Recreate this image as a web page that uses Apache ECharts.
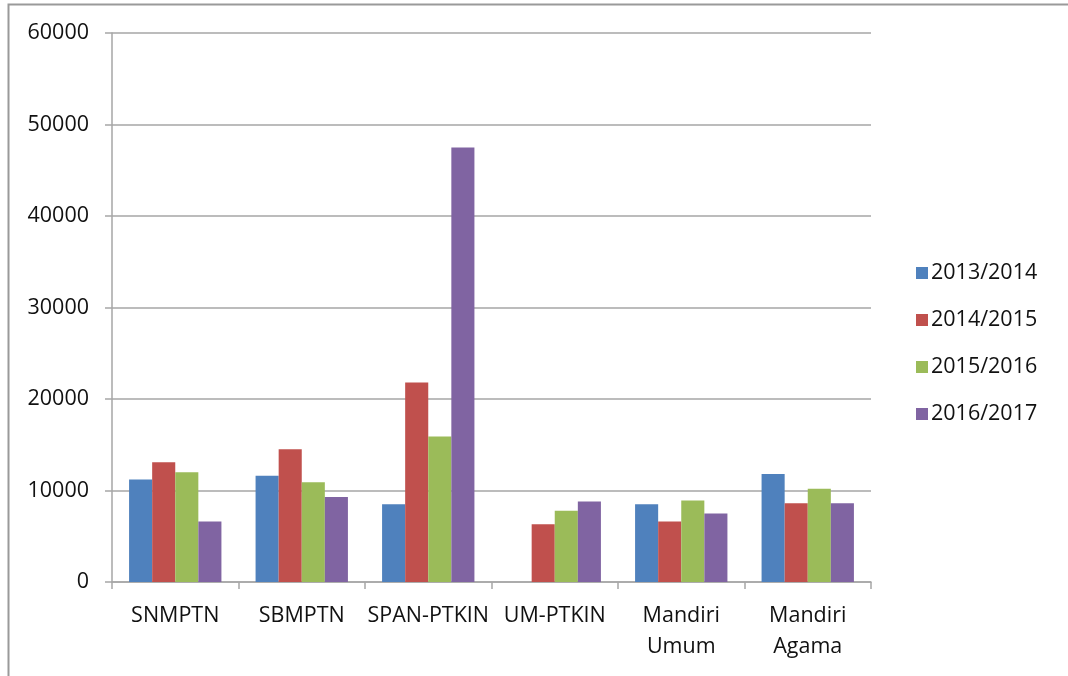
<!DOCTYPE html>
<html>
<head>
<meta charset="utf-8">
<title>Jumlah Pendaftar per Jalur Seleksi</title>
<script src="https://cdn.jsdelivr.net/npm/echarts@6/dist/echarts.min.js"></script>
<style>
  html, body { margin: 0; padding: 0; background: #fff; }
  #chart { width: 1068px; height: 676px; }
</style>
</head>
<body>
<div id="chart"></div>
<script>
// Admission routes (x axis)
const categories = ['SNMPTN', 'SBMPTN', 'SPAN-PTKIN', 'UM-PTKIN', 'Mandiri\nUmum', 'Mandiri\nAgama'];

// Applicants per academic year
const y2013 = [11200, 11600, 8500, 0, 8500, 11800];
const y2014 = [13100, 14500, 21800, 6300, 6600, 8600];
const y2015 = [12000, 10900, 15900, 7800, 8900, 10200];
const y2016 = [6600, 9300, 47500, 8800, 7500, 8600];

const seriesNames = ['2013/2014', '2014/2015', '2015/2016', '2016/2017'];
const seriesData = [y2013, y2014, y2015, y2016];
const colors = ['#4F81BD', '#C0504D', '#9BBB59', '#8064A2'];

// Value axis ticks
const yMin = 0, yMax = 60000, yStep = 10000;

const font = '"Open Sans", "Noto Sans", sans-serif';
const fs = 21.5;
const gray = '#A6A6A6';
const ink = '#111';

const chart = echarts.init(document.getElementById('chart'), null, { renderer: 'canvas' });

chart.setOption({
  animation: false,
  backgroundColor: '#fff',
  color: colors,
  textStyle: { fontFamily: font, color: ink },
  graphic: [{
    type: 'polyline',
    shape: { points: [[8.5, 676], [8.5, 4.5], [1068, 4.5]] },
    style: { stroke: '#9a9a9a', lineWidth: 2, fill: null },
    silent: true
  }],
  grid: { left: 112, right: 197, top: 33, bottom: 94, containLabel: false },
  legend: {
    orient: 'vertical',
    left: 911,
    top: 256,
    itemWidth: 12,
    itemHeight: 12,
    itemGap: 23,
    icon: 'rect',
    textStyle: { fontFamily: font, fontSize: fs, lineHeight: 24, color: ink, padding: [0, 0, 0, -2] },
    data: seriesNames
  },
  xAxis: {
    type: 'category',
    data: categories,
    axisLine: { lineStyle: { color: gray, width: 1.5 } },
    axisTick: { show: true, length: 7, lineStyle: { color: gray, width: 1.5 } },
    axisLabel: { fontFamily: font, fontSize: fs, color: ink, margin: 18, lineHeight: 31, interval: 0 },
    splitLine: { show: false }
  },
  yAxis: {
    type: 'value',
    min: yMin,
    max: yMax,
    interval: yStep,
    axisLine: { show: true, lineStyle: { color: gray, width: 1.5 } },
    axisTick: { show: true, length: 7, lineStyle: { color: gray, width: 1.5 } },
    axisLabel: { fontFamily: font, fontSize: fs, color: ink, margin: 23, formatter: v => String(v) },
    splitLine: { show: true, lineStyle: { color: gray, width: 1.5 } }
  },
  series: seriesNames.map((name, i) => ({
    name,
    type: 'bar',
    data: seriesData[i],
    barGap: '0%',
    barCategoryGap: '27%',
    itemStyle: { color: colors[i] }
  }))
});
</script>
</body>
</html>
